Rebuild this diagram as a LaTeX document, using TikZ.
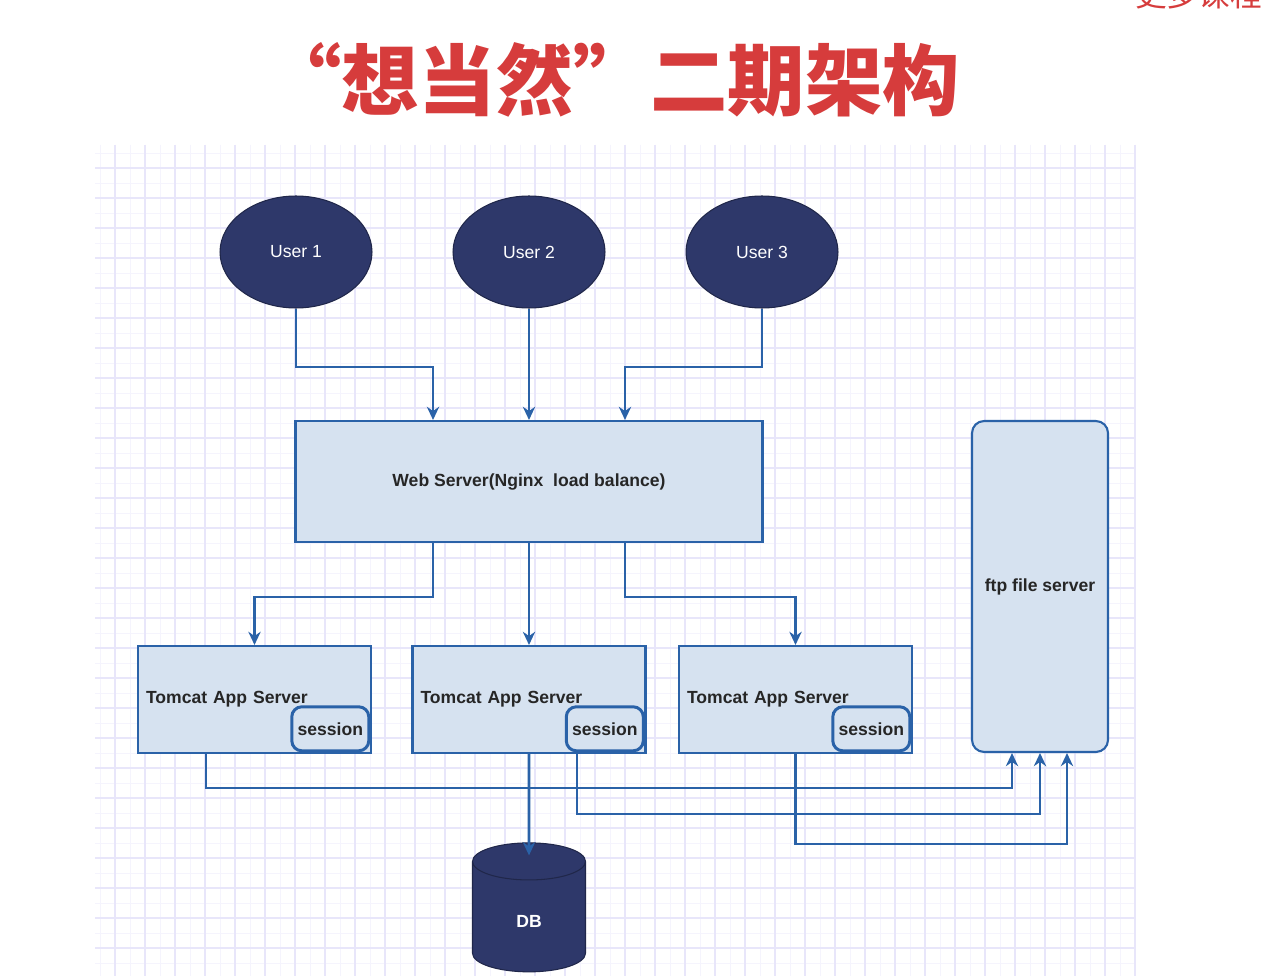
\documentclass[tikz,border=0pt]{standalone}
\usepackage{fontspec}
\setmainfont{Liberation Sans}
\newfontfamily\cjkfont{Noto Sans CJK SC}
\usepackage{xcolor}
\usetikzlibrary{arrows.meta, calc, positioning, shapes.geometric}
\definecolor{linkblue}{RGB}{42,98,168}
\definecolor{boxfill}{RGB}{214,226,240}
\definecolor{usernavy}{RGB}{46,56,106}
\definecolor{titlered}{RGB}{214,60,60}
\definecolor{gridmajor}{RGB}{232,230,250}
\definecolor{gridminor}{RGB}{245,244,253}
\tikzset{
    flow/.style={draw=linkblue, line width=1.5pt, -{Stealth[length=7.5pt, width=7pt]}},
    user/.style={ellipse, draw=usernavy!70!black, line width=0.6pt, fill=usernavy, text=white,
        minimum width=3.04cm, minimum height=2.24cm, font=\fontsize{10}{12}\selectfont},
    server/.style={rectangle, draw=linkblue, line width=1.2pt, fill=boxfill, text=black!85,
        font=\bfseries\fontsize{10}{12}\selectfont},
    appbox/.style={server, minimum width=4.66cm, minimum height=2.14cm, align=left,
        text width=4.34cm, inner xsep=0.16cm},
    sessionbox/.style={server, line width=1.7pt, rounded corners=0.2cm, inner sep=0pt,
        minimum width=1.54cm, minimum height=0.88cm, anchor=south east},
}
\begin{document}
\begin{tikzpicture}[x=0.02cm, y=-0.02cm]
    \useasboundingbox (0,0) rectangle (1266,976);
    \clip (0,0) rectangle (1266,976);
    \fill[white] (0,0) rectangle (1266,976);
    \foreach \gx in {100,130,...,1120} \draw[gridminor, line width=0.4pt] (\gx,145) -- (\gx,976);
    \foreach \gy in {153,183,...,963} \draw[gridminor, line width=0.4pt] (95,\gy) -- (1135,\gy);
    \foreach \gx in {115,145,...,1135} \draw[gridmajor, line width=0.6pt] (\gx,145) -- (\gx,976);
    \foreach \gy in {168,198,...,948} \draw[gridmajor, line width=0.6pt] (95,\gy) -- (1135,\gy);

    \node[anchor=south west, inner sep=0pt, text=titlered, font=\cjkfont\fontsize{18}{20}\selectfont] (more) at (1135,9) {更多课程};
    \node[text=titlered, font=\cjkfont\bfseries\fontsize{44}{48}\selectfont] (title) at (612,80) {“想当然”二期架构};

    \node[user] (u1) at (296,252) {User 1};
    \node[user] (u2) at (529,252) {User 2};
    \node[user] (u3) at (762,252) {User 3};

    \node[server, minimum width=9.34cm, minimum height=2.42cm] (web) at (529,481.5) {Web Server(Nginx\ \ load balance)};
    \node[server, rounded corners=0.24cm, minimum width=2.72cm, minimum height=6.62cm] (ftp) at (1040,586.5) {ftp file server};

    \node[appbox] (t1) at (254.5,699.5) {Tomcat App Server};
    \node[appbox] (t2) at (529,699.5) {Tomcat App Server};
    \node[appbox] (t3) at (795.5,699.5) {Tomcat App Server};
    \node[sessionbox] (s1) at ([xshift=-1pt, yshift=1pt]t1.south east) {session};
    \node[sessionbox] (s2) at ([xshift=-1pt, yshift=1pt]t2.south east) {session};
    \node[sessionbox] (s3) at ([xshift=-1pt, yshift=1pt]t3.south east) {session};

    \node[cylinder, shape border rotate=90, aspect=1, draw=usernavy!70!black, line width=0.6pt,
        fill=usernavy, text=white, font=\bfseries\fontsize{10}{12}\selectfont,
        minimum width=2.26cm, minimum height=2.58cm] (db) at (529,921) {DB};

    \draw[flow] (u1.south) -- (u1.south |- 0,367) -| ([xshift=-1.92cm]web.north);
    \draw[flow] (u2.south) -- (web.north);
    \draw[flow] (u3.south) -- (u3.south |- 0,367) -| ([xshift=1.92cm]web.north);

    \draw[flow] ([xshift=-1.92cm]web.south) -- ++(0,54) -| (t1.north);
    \draw[flow] (web.south) -- (t2.north);
    \draw[flow] ([xshift=1.92cm]web.south) -- ++(0,54) -| (t3.north);

    \draw[flow] (t2.south) -- ([yshift=-0.26cm]db.north);

    \draw[flow] ([xshift=-0.97cm]t1.south) -- ++(0,34) -| ([xshift=-0.56cm]ftp.south);
    \draw[flow] ([xshift=0.96cm]t2.south) -- ++(0,60) -| (ftp.south);
    \draw[flow] (t3.south) -- ++(0,90) -| ([xshift=0.54cm]ftp.south);
\end{tikzpicture}
\end{document}
